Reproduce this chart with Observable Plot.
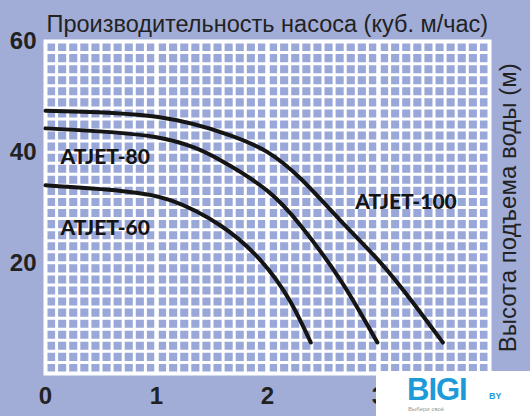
<!DOCTYPE html>
<html><head><meta charset="utf-8">
<script src="https://cdn.jsdelivr.net/npm/d3@7"></script>
<script src="https://cdn.jsdelivr.net/npm/@observablehq/plot@0.6"></script>
<style>
html,body{margin:0;padding:0;background:#a1acd7;}
#wrap{position:relative;width:530px;height:416px;overflow:hidden;background:#a1acd7;}
#wrap svg{display:block;}
#logo{position:absolute;left:376px;top:371px;width:154px;height:45px;background:#fff;font-family:"Liberation Sans",Arial,sans-serif;}
#logo .b{position:absolute;left:31px;top:5px;font-size:31px;line-height:28px;font-weight:bold;color:#1e9ad8;letter-spacing:-1px;}
#logo .by{position:absolute;left:113px;top:21px;font-size:9px;line-height:9px;font-weight:bold;color:#1e9ad8;}
#logo .s{position:absolute;left:32px;top:35px;font-size:6px;line-height:7px;color:#999;}
</style></head><body><div id="wrap"></div>
<script>
const title = "Производительность насоса (куб. м/час)";
const yTitle = "Высота подъема воды (м)";
const xTicks = [0, 1, 2, 3];
const yTicks = [20, 40, 60];

const names = ["ATJET-100", "ATJET-80", "ATJET-60"];
const flow100 = [0, 1, 1.67, 2, 2.3, 2.66, 3.02, 3.33, 3.58];
const head100 = [47.5, 46.4, 43, 40, 35.2, 27.6, 20, 12.3, 5.6];
const flow80 = [0, 1, 1.58, 2, 2.3, 2.66, 2.99];
const head80 = [44.3, 42.7, 38.5, 33, 26.7, 16.8, 5.6];
const flow60 = [0, 0.68, 1.13, 1.58, 1.94, 2.2, 2.39];
const head60 = [34, 33, 31.3, 26.7, 20.4, 13.2, 5.6];

const labelX = [2.79, 0.135, 0.135];
const labelY = [30.9, 39, 26.2];

const curves = [
  ...flow100.map((q, i) => ({name: names[0], q, h: head100[i]})),
  ...flow80.map((q, i) => ({name: names[1], q, h: head80[i]})),
  ...flow60.map((q, i) => ({name: names[2], q, h: head60[i]}))
];
const labels = names.map((n, i) => ({name: n, q: labelX[i], h: labelY[i]}));

const minorX = d3.range(0, 41).map(i => i / 10);
const minorY = d3.range(0, 31).map(i => i * 2);

const chart = Plot.plot({
  width: 530,
  height: 416,
  marginLeft: 45,
  marginRight: 41,
  marginTop: 41,
  marginBottom: 43,
  style: {background: "transparent", fontFamily: "'Liberation Sans', Arial, sans-serif"},
  x: {domain: [0, 4], axis: null},
  y: {domain: [0, 60], axis: null},
  marks: [
    Plot.frame({fill: "#9aa7d9", stroke: "none"}),
    Plot.ruleX(minorX, {stroke: "#fff", strokeWidth: 3}),
    Plot.ruleX(xTicks.slice(1), {stroke: "#fff", strokeWidth: 4.5}),
    Plot.ruleY(minorY, {stroke: "#fff", strokeWidth: 3}),
    Plot.frame({stroke: "#fff", strokeWidth: 4}),
    Plot.line(curves, {x: "q", y: "h", z: "name", curve: "natural", stroke: "#151515", strokeWidth: 4}),
    Plot.text(labels, {x: "q", y: "h", text: "name", textAnchor: "start", fill: "#151515",
      fontFamily: "Lato, 'Open Sans', sans-serif", fontWeight: "900", fontSize: 21}),
    Plot.axisY(yTicks, {tickSize: 0, tickPadding: 9, fontSize: 24, fontWeight: "bold", fill: "#222", label: null}),
    Plot.axisX(xTicks, {tickSize: 0, tickPadding: 13, fontSize: 24, fontWeight: "bold", fill: "#222", label: null}),
    Plot.text([title], {frameAnchor: "top-left", textAnchor: "start", lineAnchor: "bottom", dx: 1, dy: -10,
      fontSize: 23.5, fill: "#222"}),
    Plot.text([yTitle], {x: [4], y: [28.5], rotate: -90, dx: 19, dy: -8, fontSize: 24, fill: "#222"})
  ]
});
document.getElementById("wrap").appendChild(chart);
const logo = document.createElement("div");
logo.id = "logo";
logo.innerHTML = '<span class="b">BIGI</span><span class="by">BY</span><span class="s">Выбери своё</span>';
document.getElementById("wrap").appendChild(logo);
</script>
</body></html>
